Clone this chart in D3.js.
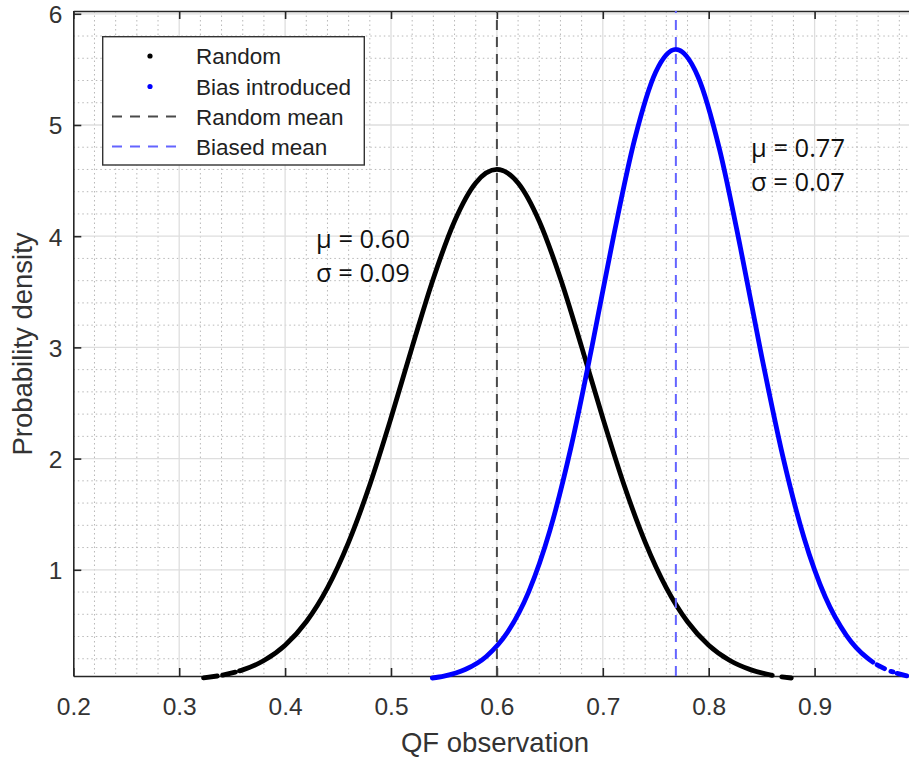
<!DOCTYPE html>
<html>
<head>
<meta charset="utf-8">
<script src="https://cdn.jsdelivr.net/npm/d3@7/dist/d3.min.js"></script>
<style>
  html, body { margin: 0; padding: 0; background: #fff; }
  svg { display: block; }
</style>
</head>
<body>
<svg id="chart" width="909" height="760"></svg>
<script>
// ---------------- data ----------------
const xTickValues = [0.2, 0.3, 0.4, 0.5, 0.6, 0.7, 0.8, 0.9];
const xTickLabels = ["0.2", "0.3", "0.4", "0.5", "0.6", "0.7", "0.8", "0.9"];
const yTickValues = [1, 2, 3, 4, 5, 6];
const yTickLabels = ["1", "2", "3", "4", "5", "6"];

// "Random" observations (sorted), null = gap between sparse samples
const randomX = [0.323, 0.336, 0.338, 0.341, 0.353, 0.355, 0.357, 0.36, 0.38, 0.40, 0.42, 0.44, 0.46, 0.48, 0.50, 0.52, 0.54, 0.56, 0.58, 0.60, 0.62, 0.64, 0.66, 0.68, 0.70, 0.72, 0.74, 0.76, 0.78, 0.80, 0.82, 0.84, 0.86, 0.865, 0.869, 0.878];
const randomY = [0.028, 0.045, null, 0.053, 0.080, null, 0.091, 0.100, 0.184, 0.322, 0.533, 0.838, 1.249, 1.765, 2.365, 3.005, 3.620, 4.135, 4.479, 4.600, 4.479, 4.135, 3.620, 3.005, 2.365, 1.765, 1.249, 0.838, 0.533, 0.322, 0.184, 0.100, 0.051, null, 0.037, 0.027];

// "Bias introduced" observations (sorted)
const biasX = [0.539, 0.55, 0.57, 0.59, 0.61, 0.63, 0.65, 0.67, 0.69, 0.71, 0.73, 0.75, 0.769, 0.79, 0.81, 0.83, 0.85, 0.87, 0.89, 0.91, 0.93, 0.95, 0.955, 0.957, 0.959, 0.966, 0.969, 0.972, 0.974, 0.976, 0.978, 0.987];
const biasY = [0.027, 0.044, 0.103, 0.221, 0.438, 0.802, 1.352, 2.103, 3.018, 3.991, 4.868, 5.476, 5.680, 5.432, 4.790, 3.895, 2.921, 2.020, 1.288, 0.757, 0.411, 0.205, 0.170, null, 0.146, 0.111, null, 0.086, 0.082, null, 0.068, 0.046];

const randomMean = 0.60, randomSigma = 0.09;
const biasedMean = 0.769, biasedMeanLabel = "0.77", biasedSigma = 0.07;

const legendLabels = ["Random", "Bias introduced", "Random mean", "Biased mean"];

// ---------------- layout ----------------
const svg = d3.select("#chart");
const plotLeft = 73.3, plotTop = 11, plotBottom = 676;
const x = d3.scaleLinear().domain([0.2, 1.0]).range([plotLeft, 920.5]);
const y = d3.scaleLinear().domain([0.045, 6.025]).range([plotBottom, plotTop]);
const axisColor = "#262626";
const fontMain = "'Liberation Sans', Arial, sans-serif";

const g = svg.append("g");

// minor grid
const xMinor = d3.range(0.22, 1.0, 0.02).filter(v => Math.abs(v * 10 - Math.round(v * 10)) > 1e-6);
const yMinor = d3.range(0.2, 6.0, 0.2).filter(v => Math.abs(v - Math.round(v)) > 1e-6);
g.selectAll(".xminor").data(xMinor).join("line")
  .attr("x1", d => x(d)).attr("x2", d => x(d))
  .attr("y1", plotTop).attr("y2", plotBottom)
  .attr("stroke", "#b8b8b8").attr("stroke-width", 1).attr("stroke-dasharray", "1.5,3");
g.selectAll(".yminor").data(yMinor).join("line")
  .attr("x1", plotLeft).attr("x2", 909)
  .attr("y1", d => y(d)).attr("y2", d => y(d))
  .attr("stroke", "#b8b8b8").attr("stroke-width", 1).attr("stroke-dasharray", "1.5,3");

// major grid
g.selectAll(".xmajor").data(xTickValues.slice(1)).join("line")
  .attr("x1", d => x(d)).attr("x2", d => x(d))
  .attr("y1", plotTop).attr("y2", plotBottom)
  .attr("stroke", "#dedede").attr("stroke-width", 1.3);
g.selectAll(".ymajor").data(yTickValues).join("line")
  .attr("x1", plotLeft).attr("x2", 909)
  .attr("y1", d => y(d)).attr("y2", d => y(d))
  .attr("stroke", "#dedede").attr("stroke-width", 1.3);

// axes (MATLAB style, inward ticks, box)
const xAxisB = d3.axisBottom(x).tickValues(xTickValues).tickSizeInner(-8).tickSizeOuter(0)
  .tickFormat((d, i) => xTickLabels[i]);
const gxb = svg.append("g").attr("transform", `translate(0,${plotBottom})`).call(xAxisB);
const xAxisT = d3.axisTop(x).tickValues(xTickValues).tickSizeInner(-8).tickSizeOuter(0).tickFormat("");
const gxt = svg.append("g").attr("transform", `translate(0,${plotTop})`).call(xAxisT);
const yAxisL = d3.axisLeft(y).tickValues(yTickValues).tickSizeInner(-8).tickSizeOuter(0)
  .tickFormat((d, i) => yTickLabels[i]);
const gyl = svg.append("g").attr("transform", `translate(${plotLeft},0)`).call(yAxisL);

[gxb, gxt, gyl].forEach(a => {
  a.select(".domain").attr("stroke", axisColor).attr("stroke-width", 1.6);
  a.selectAll(".tick line").attr("stroke", axisColor).attr("stroke-width", 1.6);
  a.selectAll(".tick text").attr("fill", "#333").style("font-family", fontMain).style("font-size", "24.5px");
});
gxb.selectAll(".tick text").attr("y", 39).attr("dy", null);
gyl.selectAll(".tick text").attr("x", -11).attr("dy", "0.36em");

// axis labels
svg.append("text").attr("x", 495).attr("y", 752).attr("text-anchor", "middle")
  .attr("fill", "#333").style("font-family", fontMain).style("font-size", "27.5px")
  .text("QF observation");
svg.append("text").attr("transform", "translate(32,344) rotate(-90)").attr("text-anchor", "middle")
  .attr("fill", "#333").style("font-family", fontMain).style("font-size", "27.5px")
  .text("Probability density");

// curves
const pts = (xs, ys) => xs.map((v, i) => [v, ys[i]]);
const line = d3.line().defined(d => d[1] !== null).x(d => x(d[0])).y(d => y(d[1])).curve(d3.curveMonotoneX);
svg.append("path").datum(pts(randomX, randomY)).attr("d", line)
  .attr("fill", "none").attr("stroke", "#000").attr("stroke-width", 4.8)
  .attr("stroke-linecap", "round").attr("stroke-linejoin", "round");
svg.append("path").datum(pts(biasX, biasY)).attr("d", line)
  .attr("fill", "none").attr("stroke", "#0000ff").attr("stroke-width", 4.8)
  .attr("stroke-linecap", "round").attr("stroke-linejoin", "round");

// mean lines
svg.append("line").attr("x1", x(randomMean)).attr("x2", x(randomMean)).attr("y1", plotBottom).attr("y2", plotTop)
  .attr("stroke", "#4a4a4a").attr("stroke-width", 2).attr("stroke-dasharray", "10,7");
svg.append("line").attr("x1", x(biasedMean)).attr("x2", x(biasedMean)).attr("y1", plotBottom).attr("y2", plotTop)
  .attr("stroke", "#6464ff").attr("stroke-width", 2).attr("stroke-dasharray", "10,7");

// annotations
const annFont = "'Open Sans', 'Noto Sans', sans-serif";
function ann(px, py, txt) {
  svg.append("text").attr("x", px).attr("y", py).attr("fill", "#111")
    .style("font-family", annFont).style("font-size", "25.5px").text(txt);
}
ann(316, 248, "μ = " + randomMean.toFixed(2));
ann(316, 282, "σ = " + randomSigma.toFixed(2));
ann(751, 157, "μ = " + biasedMeanLabel);
ann(751, 191, "σ = " + biasedSigma.toFixed(2));

// legend
const lg = svg.append("g");
lg.append("rect").attr("x", 102.7).attr("y", 36.7).attr("width", 261.6).attr("height", 128.3)
  .attr("fill", "#fff").attr("stroke", "#333").attr("stroke-width", 1.4);
const rowY = [56, 86.5, 116.5, 146.5];
const legendColors = ["#000", "#0000ff", "#4a4a4a", "#6464ff"];
legendLabels.forEach((lab, i) => {
  if (i < 2) {
    lg.append("circle").attr("cx", 150).attr("cy", rowY[i]).attr("r", 2.6).attr("fill", legendColors[i]);
  } else {
    lg.append("line").attr("x1", 112).attr("x2", 182).attr("y1", rowY[i]).attr("y2", rowY[i])
      .attr("stroke", legendColors[i]).attr("stroke-width", 2).attr("stroke-dasharray", "10,8");
  }
  lg.append("text").attr("x", 196).attr("y", rowY[i] + 8).attr("fill", "#222")
    .style("font-family", fontMain).style("font-size", "22.5px").text(lab);
});
</script>
</body>
</html>
